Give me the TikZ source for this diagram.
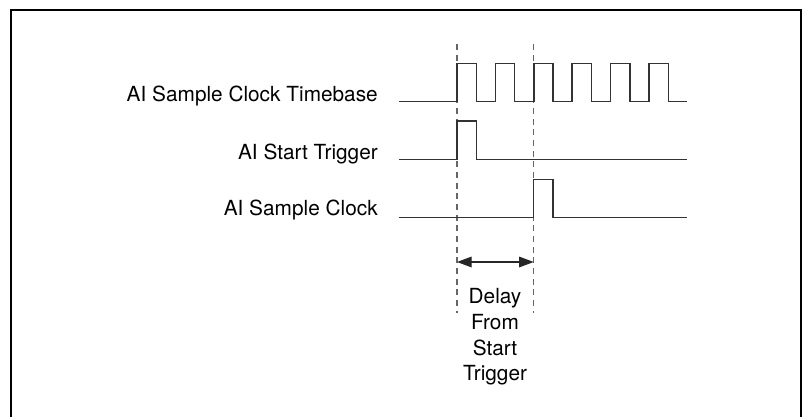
\documentclass[tikz,border=0pt]{standalone}
\usepackage{fontspec}
\setmainfont{TeX Gyre Heros}
\usetikzlibrary{arrows.meta,positioning}

\tikzset{
  wave/.style={line width=1.1pt, black!80, line join=miter},
  edgeline/.style={line width=0.9pt, black!60, dash pattern=on 4.5pt off 3.5pt},
  siglabel/.style={anchor=east, inner sep=0pt, font=\fontsize{15.6}{18}\selectfont},
  delaytext/.style={align=center, inner sep=0pt, font=\fontsize{15.6}{19.2}\selectfont},
  frame/.style={line width=2pt, black}
}

\begin{document}
\begin{tikzpicture}[x=0.75pt,y=-0.75pt]
  \useasboundingbox (0,0) rectangle (802,417);
  % outer frame (open at the bottom)
  \draw[frame] (11,430) -- (11,10) -- (801,10) -- (801,430);

  % signal names
  \foreach \i/\txt/\y in {1/AI Sample Clock Timebase/96, 2/AI Start Trigger/154, 3/AI Sample Clock/210} {
    \node[siglabel] (sig\i) at (378,\y) {\txt};
  }

  % timing edges
  \coordinate (trigTop) at (457,44);
  \coordinate (trigBot) at (457,313);
  \coordinate (clkTop) at (533.7,44);
  \coordinate (clkBot) at (533.7,313);
  \draw[edgeline] (trigTop) -- (trigBot);
  \draw[edgeline] (clkTop) -- (clkBot);

  % waveforms
  \draw[wave] (399,101.7) -- (457,101.7)
    \foreach \k in {0,...,5} { -- ++(0,-38.4) -- ++(19.3,0) -- ++(0,38.4) -- ++(19.1,0) };
  \draw[wave] (399,159.3) -- (457,159.3) -- (457,121) -- (476.3,121) -- (476.3,159.3) -- (687,159.3);
  \draw[wave] (399,217.7) -- (533.7,217.7) -- (533.7,179.3) -- (553,179.3) -- (553,217.7) -- (687,217.7);

  % delay
  \coordinate (dlyL) at (457,262);
  \coordinate (dlyR) at (533.7,262);
  \draw[line width=0.9pt, black!85, {Triangle[length=11pt,width=8pt]}-{Triangle[length=11pt,width=8pt]}] (dlyL) -- (dlyR);
  \node[delaytext] (dly) at (495,337) {Delay\\From\\Start\\Trigger};
\end{tikzpicture}
\end{document}
